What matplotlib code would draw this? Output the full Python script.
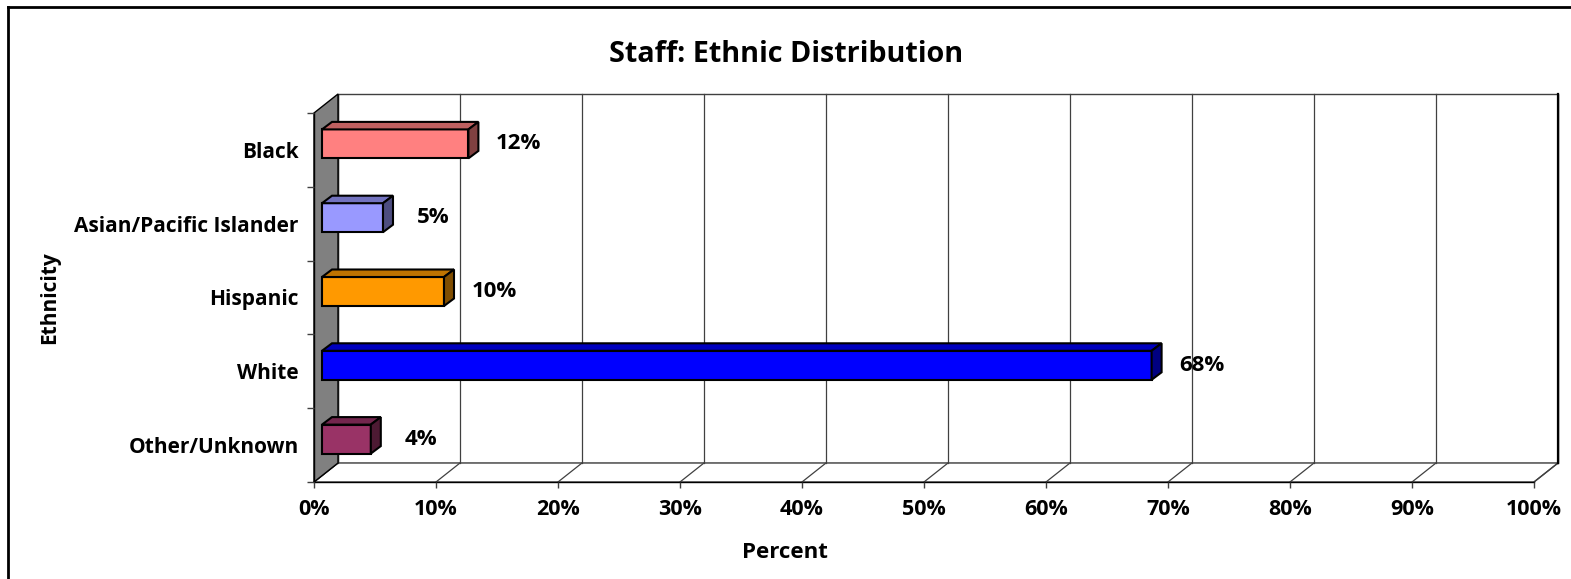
import matplotlib
matplotlib.use("Agg")
import matplotlib.pyplot as plt
from matplotlib.patches import Polygon
from matplotlib.lines import Line2D
import numpy as np

# ---- data ----
categories = ["Black", "Asian/Pacific Islander", "Hispanic", "White", "Other/Unknown"]
values = [12, 5, 10, 68, 4]
face_colors = ["#FF8080", "#9999FF", "#FF9900", "#0000FF", "#993366"]
top_colors = ["#BF6060", "#7373BF", "#BF7300", "#0000BF", "#73264D"]
side_colors = ["#804040", "#4D4D80", "#804D00", "#000080", "#4D1A33"]
xticks = list(range(0, 101, 10))
xticklabels = [f"{t}%" for t in xticks]
title = "Staff: Ethnic Distribution"
xlabel = "Percent"
ylabel = "Ethnicity"

plt.rcParams['font.family'] = ['Open Sans', 'DejaVu Sans']
plt.rcParams['font.weight'] = 'bold'

W, H = 1571, 579
fig = plt.figure(figsize=(W / 100, H / 100), dpi=100)
fig.patch.set_facecolor("white")

# front plane of the plot in pixels
L, R, T, B = 314, 1534, 113, 482
ax = fig.add_axes([L / W, 1 - B / H, (R - L) / W, (B - T) / H])
n = len(categories)
ax.set_xlim(0, 100)
ax.set_ylim(0, n)
sx = (R - L) / 100.0   # px per percent
sy = (B - T) / n       # px per category

def px(dxp, dyp):
    return dxp / sx, dyp / sy

# depth of the 3D box
wdx, wdy = px(24, 19)
# bar front face offset and bar depth
fdx, fdy = px(8, 6)
bdx, bdy = px(10, 7.5)

grid_c = "#404040"
# back wall
ax.add_patch(Polygon([(wdx, wdy), (100 + wdx, wdy), (100 + wdx, n + wdy), (wdx, n + wdy)],
                     closed=True, facecolor="white", edgecolor=grid_c, lw=1.0, clip_on=False, zorder=0))
# floor
ax.add_patch(Polygon([(0, 0), (100, 0), (100 + wdx, wdy), (wdx, wdy)],
                     closed=True, facecolor="white", edgecolor=grid_c, lw=1.0, clip_on=False, zorder=0.5))
# grid lines on back wall and floor
for t in xticks:
    ax.add_line(Line2D([t + wdx, t + wdx], [wdy, n + wdy], color=grid_c, lw=0.9, clip_on=False, zorder=0.6))
    ax.add_line(Line2D([t, t + wdx], [0, wdy], color=grid_c, lw=0.9, clip_on=False, zorder=0.6))
# right edge of back wall darker
ax.add_line(Line2D([100 + wdx, 100 + wdx], [wdy, n + wdy], color="black", lw=1.6, clip_on=False, zorder=0.7))
# left gray wall
ax.add_patch(Polygon([(0, 0), (0, n), (wdx, n + wdy), (wdx, wdy)],
                     closed=True, facecolor="#808080", edgecolor="black", lw=1.0, clip_on=False, zorder=0.8))

# bars (top category first)
centers = np.arange(n)[::-1] + 0.5
h = 29 / sy
bars = ax.barh(centers + fdy, values, left=fdx, height=h, color=face_colors,
               edgecolor="black", linewidth=1.5, zorder=3, clip_on=False)
for c, v, tc, scol in zip(centers, values, top_colors, side_colors):
    top = c + fdy + h / 2
    bot = c + fdy - h / 2
    x1 = fdx + v
    ax.add_patch(Polygon([(fdx, top), (x1, top), (x1 + bdx, top + bdy), (fdx + bdx, top + bdy)],
                         closed=True, facecolor=tc, edgecolor="black", lw=1.5, zorder=3, clip_on=False))
    ax.add_patch(Polygon([(x1, bot), (x1 + bdx, bot + bdy), (x1 + bdx, top + bdy), (x1, top)],
                         closed=True, facecolor=scol, edgecolor="black", lw=1.5, zorder=3, clip_on=False))
    ax.text(x1 + 50 / sx, c + fdy, f"{v}%", ha="center", va="center",
            fontsize=16, fontweight="bold", zorder=4)

# axes styling
for s in ["top", "right"]:
    ax.spines[s].set_visible(False)
ax.spines["left"].set_color("black")
ax.spines["bottom"].set_color("black")
ax.spines["left"].set_linewidth(1.0)
ax.spines["bottom"].set_linewidth(1.0)
ax.spines["left"].set_zorder(1)
ax.spines["bottom"].set_zorder(1)
ax.set_facecolor("none")

ax.set_xticks(xticks)
ax.set_xticklabels(xticklabels, fontsize=15.5, fontweight="bold")
ax.tick_params(axis="x", direction="out", length=4, width=1, color="#404040", pad=8)

ax.set_yticks(range(n + 1))
ax.set_yticklabels([])
ax.tick_params(axis="y", which="major", direction="out", length=5, width=1, color="#404040")
ax.set_yticks(centers, minor=True)
ax.set_yticklabels(categories, minor=True, fontsize=15, fontweight="bold")
ax.tick_params(axis="y", which="minor", length=0, pad=11)

ax.set_xlabel(xlabel, fontsize=16, fontweight="bold")
ax.xaxis.set_label_coords((785 - L) / (R - L), (B - 553) / (B - T))
ax.xaxis.label.set_va("center")
ax.set_ylabel(ylabel, fontsize=15, fontweight="bold")
ax.yaxis.set_label_coords((49.5 - L) / (R - L), 0.5)
ax.yaxis.label.set_va("center")

fig.text(786 / W, 1 - 55 / H, title, ha="center", va="center", fontsize=20.7, fontweight="bold")

# outer frame lines
fig.add_artist(Line2D([8 / W, 1], [1 - 6.5 / H] * 2, transform=fig.transFigure, color="black", lw=2))
fig.add_artist(Line2D([8 / W, 8 / W], [0, 1 - 6.5 / H], transform=fig.transFigure, color="black", lw=2))

fig.savefig("out.png", dpi=100, facecolor="white")
